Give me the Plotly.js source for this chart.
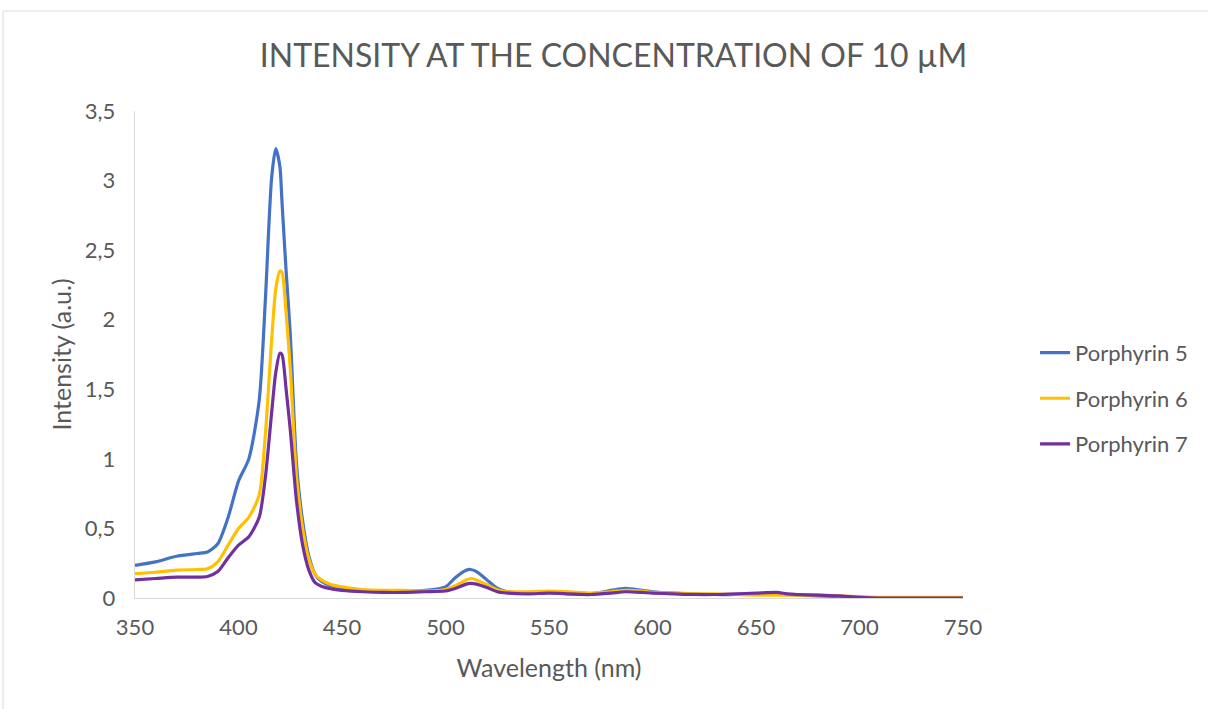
<!DOCTYPE html>
<html><head><meta charset="utf-8">
<script src="https://cdn.plot.ly/plotly-3.0.1.min.js"></script>
<style>html,body{margin:0;padding:0;background:#fff}#chart{width:1208px;height:709px}</style>
</head><body><div id="chart"></div>
<script>
const wavelength = [350,360,370,380,385,390,395,400,405,410,413,416,418,420,421,423,425,428,431,434,437,440,445,450,460,470,480,490,500,505,510,512,515,520,525,530,540,550,560,570,580,587,595,600,610,620,630,640,650,660,665,670,680,690,700,710,720,730,740,750];
const porphyrin5 = [0.235,0.26,0.30,0.32,0.33, 0.39,0.58,0.84,1.0,1.42, 2.15,3.02,3.23,3.1,2.85, 2.35,1.9,0.97,0.55,0.3, 0.17,0.12,0.085,0.07,0.055, 0.05,0.05,0.055,0.08,0.15, 0.2,0.205,0.19,0.13,0.07, 0.045,0.035,0.04,0.03,0.03, 0.055,0.07,0.055,0.045,0.035, 0.03,0.025,0.025,0.025,0.025, 0.025,0.02,0.015,0.01,0.005, 0,0,0,0,0];
const porphyrin6 = [0.175,0.185,0.2,0.205,0.21, 0.26,0.38,0.5,0.58,0.74, 1.18,1.85,2.22,2.35,2.34, 2.05,1.65,0.88,0.5,0.28, 0.17,0.13,0.095,0.08,0.06, 0.055,0.055,0.05,0.06,0.09, 0.13,0.14,0.13,0.095,0.06, 0.045,0.045,0.05,0.045,0.035, 0.045,0.055,0.05,0.04,0.035, 0.03,0.03,0.025,0.02,0.02, 0.02,0.02,0.02,0.015,0.01, 0.005,0.005,0.005,0.005,0.005];
const porphyrin7 = [0.13,0.14,0.15,0.15,0.155, 0.19,0.29,0.38,0.44,0.58, 0.87,1.33,1.62,1.76,1.75, 1.5,1.21,0.7,0.38,0.2, 0.11,0.085,0.065,0.055,0.045, 0.04,0.04,0.045,0.05,0.07, 0.1,0.105,0.1,0.075,0.045, 0.035,0.03,0.035,0.03,0.025, 0.035,0.045,0.04,0.035,0.03, 0.025,0.025,0.03,0.035,0.04, 0.03,0.025,0.02,0.015,0.005, 0,0,0,0,0];
const seriesNames = ['Porphyrin 5','Porphyrin 6','Porphyrin 7'];
const seriesColors = ['#4472C4','#FFC000','#7030A0'];
const seriesData = [porphyrin5, porphyrin6, porphyrin7];

const FONT = 'Lato, "Open Sans", sans-serif';
const GREY = '#595959';
const traces = seriesData.map((y,i)=>({
  x: wavelength, y: y, type:'scatter', mode:'lines', name: seriesNames[i],
  legendgroup: 'g'+i,
  line:{color: seriesColors[i], width:3.2, shape:'spline', smoothing:0.7}
}));

const layout = {
  width:1208, height:709,
  margin:{l:135, r:245, t:111, b:111},
  paper_bgcolor:'#fff', plot_bgcolor:'#fff',
  separators:',.',
  font:{family:FONT, color:GREY},
  title:{text:'INTENSITY AT THE CONCENTRATION OF 10 µM', font:{size:32, color:GREY, family:FONT},
         x:0.578, xref:'paper', xanchor:'center', y:57, yref:'container', yanchor:'middle'},
  xaxis:{range:[350,750], tickvals:[350,400,450,500,550,600,650,700,750], showgrid:false, zeroline:false,
         showline:true, linecolor:'#d9d9d9', linewidth:1.3, ticks:'', tickfont:{size:22, color:GREY},
         ticklabelstandoff:9,
         title:{text:'Wavelength (nm)', font:{size:25, color:GREY}, standoff:20}},
  yaxis:{range:[0,3.5], tickvals:[0,0.5,1,1.5,2,2.5,3,3.5], showgrid:false, zeroline:false,
         showline:true, linecolor:'#d9d9d9', linewidth:1.3, ticks:'', tickfont:{size:22, color:GREY},
         ticklabelstandoff:14,
         title:{text:'Intensity (a.u.)', font:{size:25, color:GREY}, standoff:6}},
  legend:{x:1.087, xanchor:'left', y:0.41, yanchor:'middle', font:{size:22, color:GREY},
          traceorder:'grouped', tracegroupgap:14, bgcolor:'rgba(0,0,0,0)'},
  shapes:[{type:'rect', xref:'paper', yref:'paper', x0:-0.1594, x1:1.6, y0:-0.6, y1:1.2053,
           line:{color:'#d9d9d9', width:1}, fillcolor:'rgba(0,0,0,0)', layer:'below'}]
};
Plotly.newPlot('chart', traces, layout, {displayModeBar:false, staticPlot:true});
</script></body></html>
